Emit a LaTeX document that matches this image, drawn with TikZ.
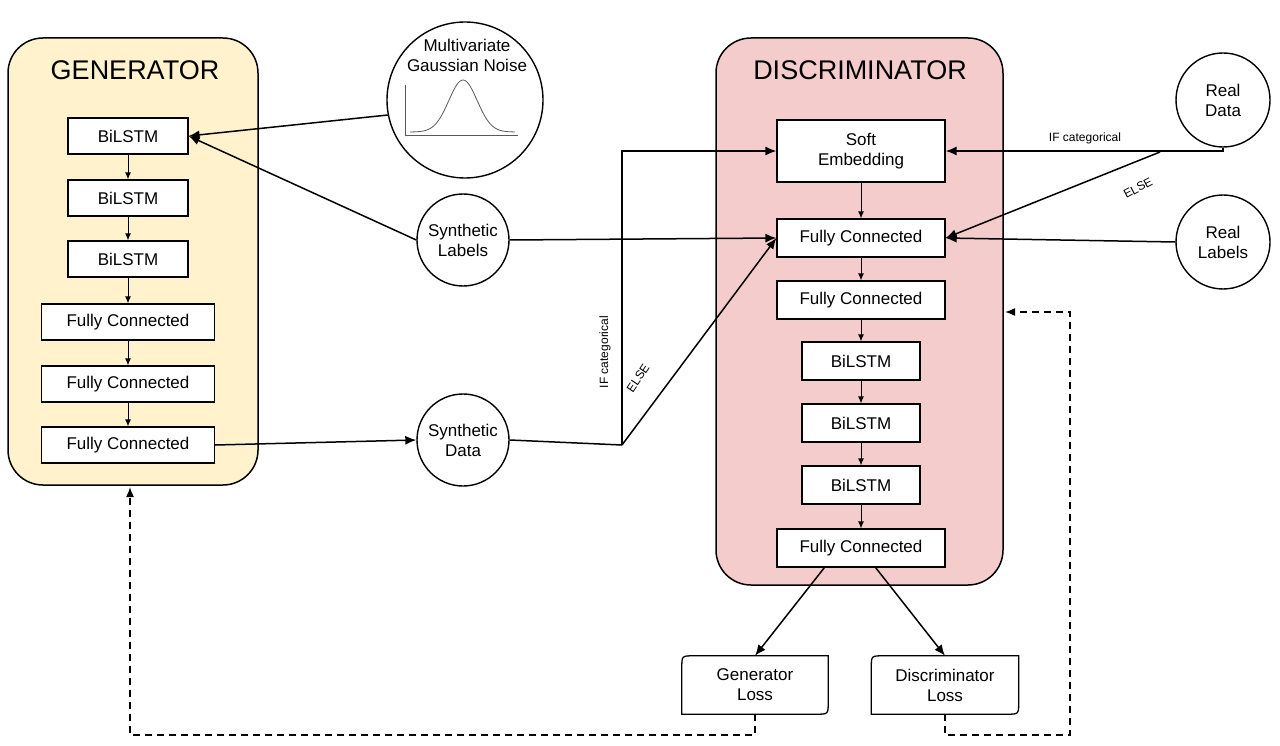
\documentclass[tikz,border=0pt]{standalone}
\usepackage{fontspec}
\setmainfont{Liberation Sans}
\usetikzlibrary{arrows.meta,calc}
\begin{document}
\begin{tikzpicture}[x=1pt,y=-1pt,
  panel/.style={draw,line width=1.5pt,rounded corners=35pt},
  blk/.style={draw,line width=1.2pt,fill=white,font=\fontsize{17}{20}\selectfont,inner sep=0pt,align=center},
  circ/.style={draw,circle,line width=1.4pt,fill=white,font=\fontsize{17}{20}\selectfont,align=center,inner sep=0pt},
  con/.style={line width=1.5pt,-{Latex[length=11pt,width=9pt]}},
  small/.style={line width=1pt,-{Latex[length=7pt,width=6pt]}},
  dsh/.style={line width=1.5pt,dash pattern=on 7pt off 5pt,-{Latex[length=10pt,width=8pt]}},
  lbl/.style={font=\fontsize{12}{14}\selectfont,inner sep=1pt}]
\useasboundingbox (0,0) rectangle (1280,746);
% panels
\draw[panel,fill={rgb,255:red,255;green,242;blue,204}] (8,38) rectangle (258,485);
\node[font=\fontsize{27}{30}\selectfont] (gt) at (135,70) {GENERATOR};
\draw[panel,fill={rgb,255:red,244;green,204;blue,204}] (716,38) rectangle (1003,585);
\node[font=\fontsize{27}{30}\selectfont] (dt) at (860,70) {DISCRIMINATOR};
% generator blocks
\node[blk,minimum width=120pt,minimum height=36pt] (g1) at (128,136) {BiLSTM};
\node[blk,minimum width=120pt,minimum height=36pt] (g2) at (128,198) {BiLSTM};
\node[blk,minimum width=120pt,minimum height=36pt] (g3) at (128,259) {BiLSTM};
\node[blk,minimum width=173pt,minimum height=36pt] (g4) at (128,322) {Fully Connected};
\node[blk,minimum width=173pt,minimum height=36pt] (g5) at (128,384) {Fully Connected};
\node[blk,minimum width=173pt,minimum height=36pt] (g6) at (128,445) {Fully Connected};
\foreach \a/\b in {g1/g2,g2/g3,g3/g4,g4/g5,g5/g6} \draw[small] (\a) -- (\b);
% discriminator blocks
\node[blk,minimum width=168pt,minimum height=62pt] (d0) at (861,151) {Soft\\Embedding};
\node[blk,minimum width=168pt,minimum height=38pt] (d1) at (861,238) {Fully Connected};
\node[blk,minimum width=168pt,minimum height=38pt] (d2) at (861,300) {Fully Connected};
\node[blk,minimum width=118pt,minimum height=38pt] (d3) at (861,361) {BiLSTM};
\node[blk,minimum width=118pt,minimum height=38pt] (d4) at (861,423) {BiLSTM};
\node[blk,minimum width=118pt,minimum height=38pt] (d5) at (861,485) {BiLSTM};
\node[blk,minimum width=168pt,minimum height=38pt] (d6) at (861,548) {Fully Connected};
\foreach \a/\b in {d0/d1,d1/d2,d2/d3,d3/d4,d4/d5,d5/d6} \draw[small] (\a) -- (\b);
% circles
\node[circ,minimum size=156pt] (noise) at (465,100) {};
\node[font=\fontsize{17}{20}\selectfont,align=center] (nt) at (467,55) {Multivariate\\Gaussian Noise};
\draw[line width=0.8pt,gray!70!black] (405,85) -- (405,135) -- (518,135);
\draw[line width=0.8pt,gray!70!black,domain=410:515,samples=60,smooth] plot (\x,{132-52*exp(-((\x-463)/20)^2)});
\node[circ,minimum size=92pt] (sl) at (463,240) {Synthetic\\Labels};
\node[circ,minimum size=92pt] (sd) at (463,440) {Synthetic\\Data};
\node[circ,minimum size=94pt] (rd) at (1223,100) {Real\\Data};
\node[circ,minimum size=94pt] (rl) at (1223,242) {Real\\Labels};
% losses
\node[font=\fontsize{17}{20}\selectfont,align=center,minimum width=146pt,minimum height=58pt] (gl) at (755,685) {Generator\\Loss};
\node[font=\fontsize{17}{20}\selectfont,align=center,minimum width=147pt,minimum height=58pt] (dl) at (945,685) {Discriminator\\Loss};
\foreach \n in {gl,dl} {
  \draw[line width=1.3pt] (\n.south west) -- ($(\n.north west)+(0,12)$) .. controls (\n.north west) .. ($(\n.north west)+(12,0)$) -- (\n.north east) -- ($(\n.south east)+(0,-12)$) .. controls (\n.south east) .. ($(\n.south east)+(-12,0)$) -- cycle;
}
% connectors
\draw[con] (noise.191) -- (g1.east);
\draw[con] (sl.west) -- (g1.east);
\draw[con] (sl.east) -- (d1.west);
\draw[con] (g6.east) -- (sd.west);
\coordinate (sp) at (622,445);
\draw[line width=1.5pt] (sd.east) -- (sp);
\draw[con] (sp) |- (d0.west);
\draw[con] (sp) -- (d1.west);
\node[lbl,rotate=90] (ifl) at (605,352) {IF categorical};
\node[lbl,rotate=56] (el) at (638,378) {ELSE};
\coordinate (rp) at (1160,152);
\draw[con] (rd.south) |- (d0.east);
\draw[con] (rp) -- (d1.east);
\node[lbl] (ifr) at (1085,138) {IF categorical};
\node[lbl,rotate=28] (er) at (1138,188) {ELSE};
\draw[con] (rl.west) -- (d1.east);
\draw[con] (d6.south west)++(48,0) -- (gl.north);
\draw[con] (d6.south east)++(-70,0) -- (dl.north);
\coordinate (gb) at (130,735);
\coordinate (db) at (1070,735);
\draw[dsh] (gl.south) |- (gb) -- (130,487);
\draw[dsh] (dl.south) |- (db) |- (1005,312);
\end{tikzpicture}
\end{document}
